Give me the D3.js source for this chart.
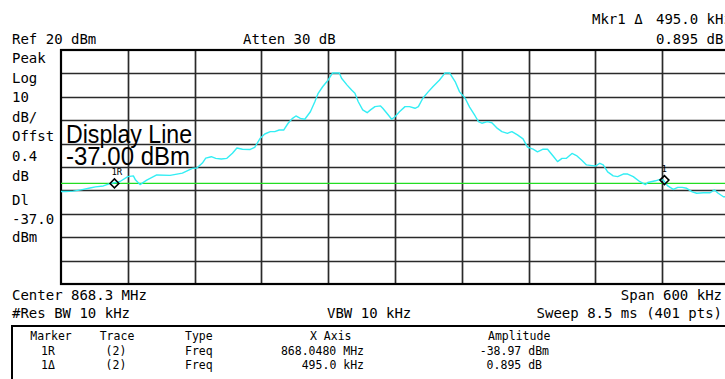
<!DOCTYPE html>
<html>
<head>
<meta charset="utf-8">
<script src="https://cdn.jsdelivr.net/npm/d3@7"></script>
<style>
  html, body { margin: 0; padding: 0; background: #fff; }
  svg { display: block; }
  text { font-family: "DejaVu Sans Mono", monospace; fill: #000; }
</style>
</head>
<body>
<div id="analyzer"></div>
<script>
"use strict";

// trace 2: frequency offset from 868.000 MHz (kHz) and level (dBm)
const traceKHz = [
    0, 4, 11, 18, 26, 31, 38, 44, 53, 60,
    65, 67, 71, 77, 86, 98, 109, 118, 122, 127,
    130, 135, 139, 144, 149, 154, 158, 163, 170, 174,
    179, 183, 188, 192, 196, 200, 204, 208, 211, 215,
    219, 224, 228, 231, 235, 240, 244, 250, 252, 257,
    261, 264, 267, 271, 275, 278, 282, 287, 289, 294,
    297, 300, 304, 309, 313, 318, 321, 325, 330, 334,
    340, 345, 349, 354, 358, 363, 367, 372, 375, 378,
    383, 387, 392, 396, 401, 405, 410, 415, 419, 424,
    428, 433, 437, 442, 446, 450, 454, 459, 463, 468,
    472, 477, 480, 484, 487, 491, 496, 500, 505, 509,
    514, 520, 525, 527, 534, 538, 541, 545, 550, 554,
    558, 562, 567, 571, 577, 583, 587, 590, 595, 600
];
const traceDbm = [
    -40.5, -40.5, -40.3, -39.8, -39.0, -38.5, -38.1, -37.1, -36.2, -34.1,
    -33.8, -35.6, -37.5, -35.6, -33.4, -33.6, -32.6, -30.6, -30.4, -28.3,
    -26.2, -25.6, -26.3, -26.6, -26.3, -24.1, -21.9, -22.4, -22.5, -21.6,
    -17.7, -15.9, -14.9, -14.9, -14.2, -14.2, -11.3, -9.2, -8.2, -9.2,
    -9.6, -6.4, -2.1, 1.5, 4.3, 7.2, 10.2, 10.2, 7.9, 5.0,
    2.9, 1.5, -2.1, -5.6, -6.8, -5.6, -4.2, -3.9, -4.9, -7.8,
    -9.6, -8.5, -6.4, -4.2, -4.2, -4.9, -4.2, -0.6, 2.2, 4.3,
    7.2, 10.2, 10.2, 6.5, 2.1, -0.6, -4.4, -8.2, -10.6, -11.3,
    -10.6, -11.1, -13.5, -14.9, -15.6, -14.9, -16.3, -18.0, -21.5, -22.4,
    -23.5, -22.4, -22.4, -25.3, -27.7, -26.3, -26.3, -24.2, -25.1, -27.2,
    -29.1, -29.4, -29.6, -28.4, -29.1, -32.1, -33.8, -34.1, -33.0, -33.0,
    -34.1, -36.3, -37.5, -36.6, -35.9, -35.3, -35.6, -38.1, -39.6, -38.7,
    -38.7, -39.1, -40.6, -41.2, -41.0, -41.0, -39.8, -41.1, -42.7, -42.8
];

const refLevel = 20;       // dBm, top of screen
const dbPerDiv = 10;
const divisions = 10;
const spanKHz = 600;
const displayLine = -37;   // dBm

const markerLabels = ["1R", "1"];
const markerKHz = [48, 542];
const markerDbm = [-37.0, -35.6];

const sideLabels = ["Peak", "Log", "10", "dB/", "Offst", "0.4", "dB"];
const dlLabels = ["Dl", "-37.0", "dBm"];

const tableHeader = ["Marker", "Trace", "Type", "X Axis", "Amplitude"];
const tableMarker = ["1R", "1\u0394"];
const tableTrace = ["(2)", "(2)"];
const tableType = ["Freq", "Freq"];
const tableXAxis = ["868.0480 MHz", "495.0 kHz"];
const tableAmpl = ["-38.97 dBm", "0.895 dB"];

const W = 725, H = 379;
const margin = {
    top : 50,
    left: 61
};
const width = 668;
const height = 234;

const xScale = d3.scaleLinear()
                 .domain([0, spanKHz])
                 .range([0, width]);
const yScale = d3.scaleLinear()
                 .domain([refLevel - dbPerDiv * divisions, refLevel])
                 .range([height, 0]);

const svg = d3.select("#analyzer").append("svg")
              .attr("width", W)
              .attr("height", H);
svg.append("rect")
   .attr("width", W)
   .attr("height", H)
   .attr("fill", "#fff");

const plot = svg.append("g")
                .attr("transform", `translate(${margin.left}, ${margin.top})`);

// graticule
const xDivs = d3.range(1, divisions).map(i => i * spanKHz / divisions);
const yDivs = d3.range(1, divisions).map(i => refLevel - i * dbPerDiv);
plot.selectAll("line.vgrid")
    .data(xDivs)
    .join("line")
    .attr("class", "vgrid")
    .attr("x1", d => Math.round(xScale(d)) + 0.5)
    .attr("x2", d => Math.round(xScale(d)) + 0.5)
    .attr("y1", 0)
    .attr("y2", height)
    .attr("stroke", "#2a2a2a")
    .attr("stroke-width", 1.7);
plot.selectAll("line.hgrid")
    .data(yDivs)
    .join("line")
    .attr("class", "hgrid")
    .attr("x1", 0)
    .attr("x2", width)
    .attr("y1", d => Math.round(yScale(d)) + 0.5)
    .attr("y2", d => Math.round(yScale(d)) + 0.5)
    .attr("stroke", "#2a2a2a")
    .attr("stroke-width", 1.7);
plot.append("rect")
    .attr("x", 0)
    .attr("y", 0)
    .attr("width", width)
    .attr("height", height)
    .attr("fill", "none")
    .attr("stroke", "#000")
    .attr("stroke-width", 2.2);

// display line
plot.append("line")
    .attr("x1", 0)
    .attr("x2", width)
    .attr("y1", yScale(displayLine))
    .attr("y2", yScale(displayLine))
    .attr("stroke", "#22dd22")
    .attr("stroke-width", 1.3);

// trace
const trace = traceKHz.map((f, i) => ({ f, db: traceDbm[i] }));
const line = d3.line()
               .x(d => xScale(d.f))
               .y(d => yScale(d.db));
plot.append("path")
    .datum(trace)
    .attr("d", line)
    .attr("fill", "none")
    .attr("stroke", "#33eef4")
    .attr("stroke-width", 1.4)
    .attr("stroke-linejoin", "round");

// markers
const markers = markerKHz.map((f, i) => ({ f, db: markerDbm[i], label: markerLabels[i] }));
const mk = plot.selectAll("g.marker")
               .data(markers)
               .join("g")
               .attr("class", "marker")
               .attr("transform", d => `translate(${xScale(d.f)}, ${yScale(d.db)})`);
mk.append("path")
  .attr("d", "M0,-4.5L4.5,0L0,4.5L-4.5,0Z")
  .attr("fill", "none")
  .attr("stroke", "#000")
  .attr("stroke-width", 1.5);
mk.append("text")
  .attr("x", -3)
  .attr("y", -8)
  .attr("font-size", 9)
  .text(d => d.label);

// display line annotation
const note = svg.append("g")
                .attr("font-size", 25);
note.append("text")
    .attr("x", 66)
    .attr("y", 143)
    .attr("textLength", 126)
    .attr("lengthAdjust", "spacingAndGlyphs")
    .style("font-family", "Liberation Sans, sans-serif")
    .text("Display Line");
note.append("text")
    .attr("x", 66)
    .attr("y", 165)
    .attr("textLength", 124)
    .attr("lengthAdjust", "spacingAndGlyphs")
    .style("font-family", "Liberation Sans, sans-serif")
    .text(`${displayLine.toFixed(2)} dBm`);

// header / footer annotation
const big = svg.append("g").attr("font-size", 14);
big.append("text").attr("x", 12).attr("y", 44).text(`Ref ${refLevel} dBm`);
big.append("text").attr("x", 243).attr("y", 44).text("Atten 30 dB");
big.append("text").attr("x", 592).attr("y", 24).text("Mkr1 \u0394");
big.append("text").attr("x", 656).attr("y", 24).text("495.0 kHz");
big.append("text").attr("x", 656).attr("y", 44).text("0.895 dB");

big.selectAll("text.side")
   .data(sideLabels)
   .join("text")
   .attr("class", "side")
   .attr("x", 12)
   .attr("y", (d, i) => 63 + i * 19.6)
   .text(d => d);
big.selectAll("text.dl")
   .data(dlLabels)
   .join("text")
   .attr("class", "dl")
   .attr("x", 12)
   .attr("y", (d, i) => 205 + i * 18.6)
   .text(d => d);

big.append("text").attr("x", 12).attr("y", 300).text("Center 868.3 MHz");
big.append("text").attr("x", 722).attr("y", 300).attr("text-anchor", "end").text(`Span ${spanKHz} kHz`);
big.append("text").attr("x", 12).attr("y", 318).text("#Res BW 10 kHz");
big.append("text").attr("x", 327).attr("y", 318).text("VBW 10 kHz");
big.append("text").attr("x", 722).attr("y", 318).attr("text-anchor", "end").text("Sweep 8.5 ms (401 pts)");

// marker table
svg.append("rect")
   .attr("x", 12)
   .attr("y", 326)
   .attr("width", 730)
   .attr("height", 80)
   .attr("fill", "none")
   .attr("stroke", "#000")
   .attr("stroke-width", 2);
const tbl = svg.append("g").attr("font-size", 11.5);
const colX = [51, 117, 185, 310, 488];
const colAnchor = ["middle", "middle", "start", "start", "start"];
tbl.selectAll("text.th")
   .data(tableHeader)
   .join("text")
   .attr("class", "th")
   .attr("x", (d, i) => colX[i])
   .attr("y", 340)
   .attr("text-anchor", (d, i) => colAnchor[i])
   .text(d => d);
const rows = tableMarker.map((m, i) => [m, tableTrace[i], tableType[i], tableXAxis[i], tableAmpl[i]]);
const rowX = [48, 116, 185, 364, 549];
const rowAnchor = ["middle", "middle", "start", "end", "end"];
rows.forEach((row, r) => {
    tbl.selectAll(`text.r${r}`)
       .data(row)
       .join("text")
       .attr("class", `r${r}`)
       .attr("x", (d, i) => rowX[i] - (r === 1 && i === 4 ? 7 : 0))
       .attr("y", 355 + r * 13.5)
       .attr("text-anchor", (d, i) => rowAnchor[i])
       .text(d => d);
});
</script>
</body>
</html>
